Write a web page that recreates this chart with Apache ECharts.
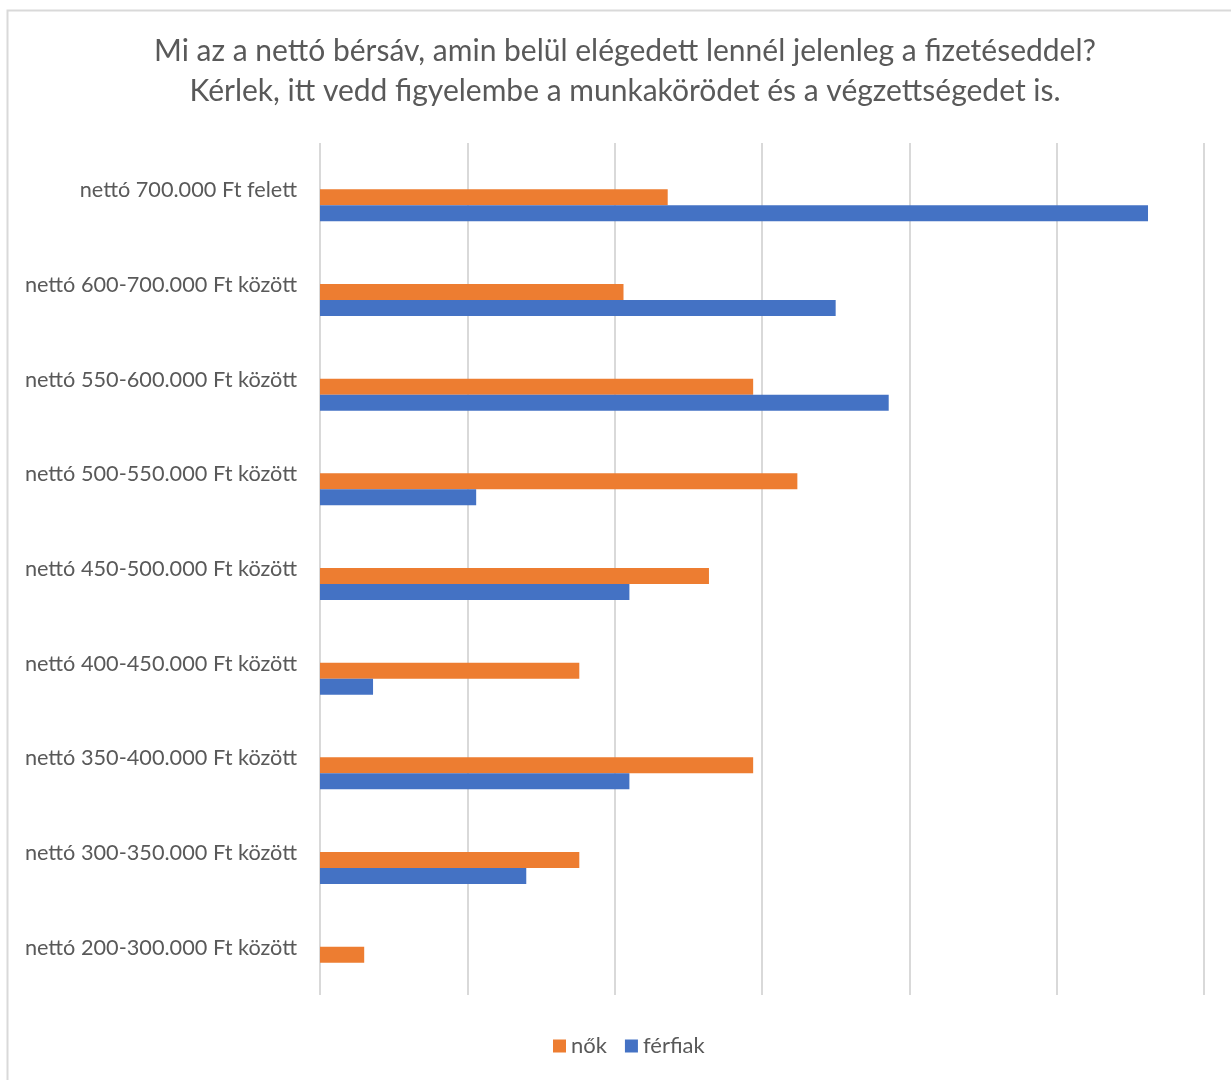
<!DOCTYPE html>
<html>
<head>
<meta charset="utf-8">
<script src="https://cdn.jsdelivr.net/npm/echarts@6/dist/echarts.min.js"></script>
<style>
  html, body { margin: 0; padding: 0; background: #fff; }
  #chart { width: 1231px; height: 1080px; }
</style>
</head>
<body>
<div id="chart"></div>
<script>
// Salary bands, top to bottom
const categories = [
  'nettó 700.000 Ft felett',
  'nettó 600-700.000 Ft között',
  'nettó 550-600.000 Ft között',
  'nettó 500-550.000 Ft között',
  'nettó 450-500.000 Ft között',
  'nettó 400-450.000 Ft között',
  'nettó 350-400.000 Ft között',
  'nettó 300-350.000 Ft között',
  'nettó 200-300.000 Ft között'
];
// Share of respondents (%) per band
const nok = [11.8, 10.3, 14.7, 16.2, 13.2, 8.8, 14.7, 8.8, 1.5];
const ferfiak = [28.1, 17.5, 19.3, 5.3, 10.5, 1.8, 10.5, 7.0, 0];

const seriesNames = ['nők', 'férfiak'];
const titleText = 'Mi az a nettó bérsáv, amin belül elégedett lennél jelenleg a fizetéseddel?\nKérlek, itt vedd figyelembe a munkakörödet és a végzettségedet is.';

const FONT = 'Lato, "Open Sans", sans-serif';
const TEXT_COLOR = '#595959';
const chart = echarts.init(document.getElementById('chart'), null, { renderer: 'canvas' });

// Grid 0 carries the gridlines and category labels; grid 1 carries the bars,
// sitting half a bar pair lower inside each band.
const valueAxisBase = { type: 'value', min: 0, max: 30, interval: 5, axisLabel: { show: false }, axisLine: { show: false }, axisTick: { show: false } };

chart.setOption({
  backgroundColor: '#ffffff',
  animation: false,
  color: ['#ED7D31', '#4472C4'],
  graphic: [{
    type: 'rect',
    shape: { x: 7.5, y: 10.5, width: 1260, height: 1100 },
    style: { fill: 'none', stroke: '#d9d9d9', lineWidth: 2 },
    silent: true
  }],
  title: {
    text: titleText,
    left: 620,
    textAlign: 'center',
    top: 26,
    textStyle: {
      fontFamily: FONT,
      fontWeight: 'normal',
      fontSize: 30,
      lineHeight: 40,
      color: TEXT_COLOR
    }
  },
  legend: {
    data: seriesNames,
    left: 548,
    bottom: 18,
    itemWidth: 13,
    itemHeight: 13,
    itemGap: 18,
    icon: 'rect',
    textStyle: { fontFamily: FONT, fontSize: 22, color: TEXT_COLOR }
  },
  grid: [
    { left: 320, right: 27, top: 143, bottom: 85, containLabel: false },
    { left: 320, right: 27, top: 158, bottom: 70, containLabel: false }
  ],
  xAxis: [
    Object.assign({}, valueAxisBase, { gridIndex: 0, splitLine: { lineStyle: { color: '#d9d9d9', width: 2 } } }),
    Object.assign({}, valueAxisBase, { gridIndex: 1, splitLine: { show: false } })
  ],
  yAxis: [
    {
      type: 'category',
      gridIndex: 0,
      inverse: true,
      data: categories,
      axisLine: { show: false },
      axisTick: { show: false },
      axisLabel: { fontFamily: FONT, fontSize: 21.7, color: TEXT_COLOR, margin: 23 }
    },
    {
      type: 'category',
      gridIndex: 1,
      inverse: true,
      data: categories,
      axisLine: { show: false },
      axisTick: { show: false },
      axisLabel: { show: false }
    }
  ],
  series: [
    {
      name: seriesNames[0],
      type: 'bar',
      xAxisIndex: 1,
      yAxisIndex: 1,
      data: nok,
      barWidth: 16,
      barGap: '0%'
    },
    {
      name: seriesNames[1],
      type: 'bar',
      xAxisIndex: 1,
      yAxisIndex: 1,
      data: ferfiak,
      barWidth: 16,
      barGap: '0%'
    }
  ]
});
</script>
</body>
</html>
